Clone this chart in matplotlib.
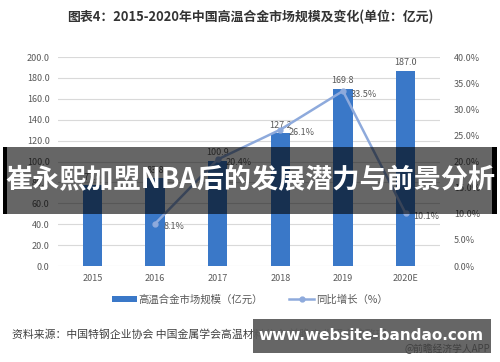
import matplotlib.pyplot as plt
from matplotlib.patches import Rectangle
from matplotlib.ticker import FuncFormatter, MultipleLocator

plt.rcParams['font.family'] = ['Noto Sans CJK SC', 'DejaVu Sans']

years = ['2015', '2016', '2017', '2018', '2019', '2020E']
market = [77.5, 83.8, 100.9, 127.2, 169.8, 187.0]
growth_years = ['2016', '2017', '2018', '2019', '2020E']
growth = [8.1, 20.4, 26.1, 33.5, 10.1]

bar_color = '#3a78c8'
line_color = '#8eaadc'
text_color = '#595959'

fig = plt.figure(figsize=(5, 3.62), dpi=100)
ax = fig.add_axes([0.116, 0.265, 0.764, 0.5775])

x = range(len(years))
ax.bar(x, market, width=0.31, color=bar_color, zorder=2, label='高温合金市场规模（亿元）')
for i, v in zip(x, market):
    ax.text(i, v + 3, f'{v:.1f}', ha='center', va='bottom', fontsize=6.5, color=text_color)

ax.set_ylim(0, 200)
ax.set_xlim(-0.55, len(years) - 0.45)
ax.yaxis.set_major_locator(MultipleLocator(20))
ax.yaxis.set_major_formatter(FuncFormatter(lambda v, p: f'{v:.1f}'))
ax.set_xticks(list(x))
ax.set_xticklabels(years)
ax.grid(axis='y', color='#d9d9d9', linewidth=0.8, zorder=0)
for s in ax.spines.values():
    s.set_visible(False)
ax.tick_params(length=0, labelsize=6.5, colors=text_color, pad=6)

ax2 = ax.twinx()
gx = [years.index(y) for y in growth_years]
ax2.plot(gx, growth, color=line_color, linewidth=1.8, marker='o', markersize=3.5,
         zorder=3, label='同比增长（%）')
for i, v in zip(gx, growth):
    ax2.text(i + 0.13, v - 0.6, f'{v:.1f}%', ha='left', va='center', fontsize=6.5,
             color=text_color)
ax2.set_ylim(0, 40)
ax2.yaxis.set_major_locator(MultipleLocator(5))
ax2.yaxis.set_major_formatter(FuncFormatter(lambda v, p: f'{v:.1f}%'))
for s in ax2.spines.values():
    s.set_visible(False)
ax2.tick_params(length=0, labelsize=6.5, colors=text_color, pad=10)

fig.text(0.5, 0.953, '图表4：2015-2020年中国高温合金市场规模及变化(单位：亿元)',
         ha='center', va='center', fontsize=9.3, fontweight='bold', color='#333333')

h1, l1 = ax.get_legend_handles_labels()
h2, l2 = ax2.get_legend_handles_labels()
fig.legend(h1 + h2, l1 + l2, loc='center', bbox_to_anchor=(0.5, 0.173), ncol=2,
           frameon=False, fontsize=7.5, handlelength=2.4, handleheight=0.5,
           handletextpad=0.2, columnspacing=2.5, labelcolor=text_color)

fig.text(0.024, 0.075, '资料来源：中国特钢企业协会 中国金属学会高温材料分会 前瞻产业研究院整理',
         ha='left', va='center', fontsize=7.8, color='#404040')
fig.text(0.98, 0.035, '@前瞻经济学人APP', ha='right', va='center', fontsize=7,
         color='#404040', zorder=6)

# overlay banner
fig.patches.append(Rectangle((0.006, 0.409), 0.988, 0.185, transform=fig.transFigure,
                             facecolor='black', alpha=0.6, zorder=5))
fig.patches.append(Rectangle((0.006, 0.409), 0.007, 0.185, transform=fig.transFigure,
                             facecolor='black', zorder=5))
fig.patches.append(Rectangle((0.984, 0.409), 0.01, 0.185, transform=fig.transFigure,
                             facecolor='black', zorder=5))
fig.text(0.5, 0.502, '崔永熙加盟NBA后的发展潜力与前景分析', ha='center', va='center',
         fontsize=19.5, fontweight='bold', color='white', zorder=7)

# site watermark
fig.patches.append(Rectangle((0.506, 0.025), 0.476, 0.094, transform=fig.transFigure,
                             facecolor='#5a5a5a', alpha=0.93, zorder=5))
fig.text(0.742, 0.073, 'www.website-bandao.com', ha='center', va='center',
         fontsize=11, fontweight='bold', color='white', family='DejaVu Sans', zorder=7)

fig.savefig('out.png', dpi=100)
